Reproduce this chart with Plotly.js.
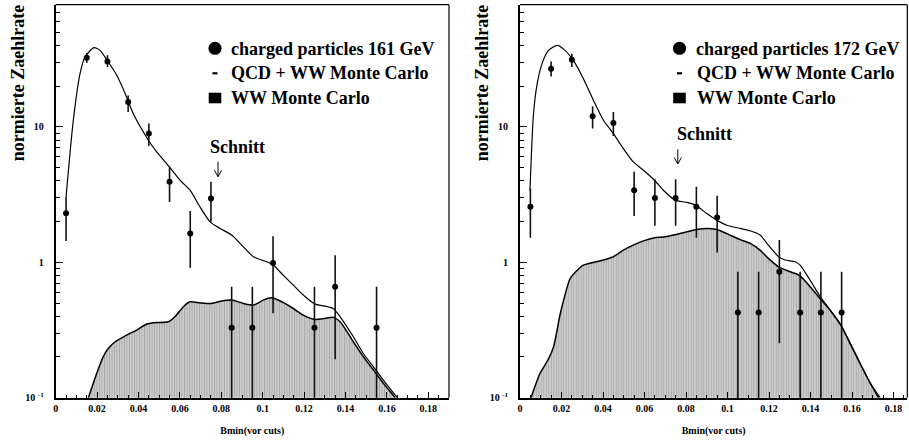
<!DOCTYPE html>
<html>
<head>
<meta charset="utf-8">
<script src="https://cdn.plot.ly/plotly-3.0.1.min.js"></script>
<style>html,body{margin:0;padding:0;background:#fff}#chart{width:909px;height:442px}</style>
</head>
<body>
<div id="chart"></div>
<script>
// ---------- 161 GeV panel ----------
const binCenters161 = [0.005,0.015,0.025,0.035,0.045,0.055,0.065,0.075,0.085,0.095,0.105,0.125,0.135,0.155];
const data161 = [2.30,32.5,30.5,15.3,8.93,3.93,1.63,2.96,0.329,0.329,0.99,0.329,0.66,0.329];
const upper161 = [3.04,35.2,33.8,17.1,10.6,5.07,2.39,3.93,0.66,0.66,1.56,0.66,1.13,0.66];
const lower161 = [1.44,29.7,27.7,12.9,7.24,2.79,0.91,1.99,0.01,0.01,0.42,0.01,0.192,0.01];

const totX161 = [0.0050,0.0085,0.0118,0.0142,0.0185,0.0214,0.0254,0.0295,0.0343,0.0375,0.0448,0.0488,0.0536,0.0601,0.0649,0.0697,0.0746,0.0794,0.0850,0.0907,0.0955,0.1019,0.1052,0.1100,0.1148,0.1196,0.1253,0.1300,0.1341,0.1374,0.1438,0.1486,0.1535,0.1583,0.1650];
const totY161 = [3.04,11.2,25.0,33.0,38.5,36.8,30.2,24.1,16.6,12.5,7.97,6.54,5.36,4.04,3.41,2.57,1.99,1.78,1.59,1.30,1.10,1.01,0.953,0.80,0.678,0.573,0.491,0.475,0.456,0.396,0.282,0.212,0.169,0.135,0.1];

const wwX161 = [0.0158,0.0198,0.0230,0.0254,0.0287,0.0343,0.0391,0.0440,0.0472,0.0544,0.0576,0.0617,0.0649,0.0697,0.0754,0.0802,0.0850,0.0907,0.0955,0.1003,0.1043,0.1092,0.1148,0.1196,0.1253,0.1300,0.1341,0.1374,0.1438,0.1486,0.1535,0.1583,0.1640];
const wwY161 = [0.1,0.151,0.201,0.231,0.259,0.290,0.316,0.35,0.358,0.364,0.396,0.47,0.511,0.502,0.497,0.517,0.526,0.497,0.483,0.526,0.547,0.511,0.456,0.407,0.378,0.385,0.392,0.364,0.259,0.201,0.160,0.128,0.1];

// ---------- 172 GeV panel ----------
const binCenters172 = [0.005,0.015,0.025,0.035,0.045,0.055,0.065,0.075,0.085,0.095,0.105,0.115,0.125,0.135,0.145,0.155];
const data172 = [2.57,26.9,31.4,12.0,10.7,3.41,2.99,2.99,2.57,2.14,0.426,0.426,0.851,0.426,0.426,0.426];
const upper172 = [3.51,30.5,34.8,14.2,12.9,4.66,4.11,4.11,3.61,3.10,0.851,0.851,1.46,0.851,0.851,0.851];
const lower172 = [1.52,23.6,27.7,9.72,8.59,2.20,1.86,1.86,1.52,1.18,0.01,0.01,0.252,0.01,0.01,0.01];

const totX172 = [0.0048,0.0064,0.0080,0.0105,0.0137,0.0180,0.0217,0.0257,0.0305,0.0354,0.0402,0.0450,0.0498,0.0546,0.0595,0.0648,0.0691,0.0747,0.0804,0.0847,0.0900,0.0948,0.0997,0.1061,0.1109,0.1157,0.1197,0.1246,0.1278,0.1326,0.1350,0.1398,0.1446,0.1495,0.1546,0.1591,0.1639,0.1688,0.1736];
const totY172 = [3.41,11.9,19.7,29.0,36.8,40.1,36.8,31.0,22.8,15.7,11.2,8.93,6.92,5.52,4.79,4.04,3.41,2.88,2.77,2.64,2.29,2.05,1.88,1.78,1.71,1.59,1.34,1.10,1.04,1.01,0.953,0.738,0.56,0.443,0.344,0.252,0.179,0.128,0.1];

const wwX172 = [0.0053,0.0096,0.0135,0.0162,0.0193,0.0215,0.0240,0.0265,0.0305,0.0402,0.0450,0.0498,0.0546,0.0595,0.0648,0.0691,0.0747,0.0804,0.0852,0.0900,0.0948,0.0997,0.1061,0.1109,0.1157,0.1197,0.1246,0.1302,0.1347,0.1398,0.1446,0.1495,0.1546,0.1591,0.1639,0.1688,0.1728];
const wwY172 = [0.1,0.151,0.19,0.238,0.41,0.56,0.75,0.84,0.953,1.04,1.10,1.23,1.34,1.44,1.52,1.54,1.60,1.68,1.75,1.78,1.75,1.63,1.47,1.38,1.23,1.07,0.926,0.851,0.80,0.66,0.541,0.443,0.344,0.252,0.179,0.128,0.1];

const legendLabels161 = ["charged particles 161 GeV","QCD + WW Monte Carlo","WW Monte Carlo"];
const legendLabels172 = ["charged particles 172 GeV","QCD + WW Monte Carlo","WW Monte Carlo"];
const xTickVals = [0,0.02,0.04,0.06,0.08,0.1,0.12,0.14,0.16,0.18];
const xTickText = ["0","0.02","0.04","0.06","0.08","0.1","0.12","0.14","0.16","0.18"];
const yTickVals = [0.1,1,10];
const yTickText = ["10 <sup>-1</sup>","1","10"];
const yMinorVals = [0.2,0.3,0.4,0.5,0.6,0.7,0.8,0.9,2,3,4,5,6,7,8,9,20,30,40,50,60,70,80];
const xTitle = "Bmin(vor cuts)";
const yTitle = "normierte Zaehlrate";
const cutLabel = "Schnitt";

const SERIF = "Liberation Serif, Times New Roman, serif";
const W = 909, H = 442;
const px = v => v / W;
const py = v => 1 - v / H;

function panelTraces(xa, ya, cx, cy, up, lo, tx, ty, wx, wy) {
  return [
    {x: wx, y: wy, xaxis: xa, yaxis: ya, type: 'scatter', mode: 'lines',
     line: {color: '#000', width: 1.5, shape: 'spline', smoothing: 0.6},
     fill: 'tozeroy', fillcolor: '#c6c6c6',
     fillpattern: {shape: '|', fgcolor: '#a8a8a8', bgcolor: '#d0d0d0', size: 2.5, solidity: 0.4},
     hoverinfo: 'skip', showlegend: false},
    {x: tx, y: ty, xaxis: xa, yaxis: ya, type: 'scatter', mode: 'lines',
     line: {color: '#000', width: 1.2, shape: 'spline', smoothing: 0.6},
     hoverinfo: 'skip', showlegend: false},
    {x: cx, y: cy, xaxis: xa, yaxis: ya, type: 'scatter', mode: 'markers',
     marker: {color: '#000', size: 6},
     error_y: {type: 'data', symmetric: false,
       array: up.map((u, i) => u - cy[i]),
       arrayminus: lo.map((l, i) => cy[i] - l),
       color: '#111', thickness: 1.6, width: 0},
     hoverinfo: 'skip', showlegend: false}
  ];
}

const traces = [].concat(
  panelTraces('x', 'y', binCenters161, data161, upper161, lower161, totX161, totY161, wwX161, wwY161),
  panelTraces('x2', 'y2', binCenters172, data172, upper172, lower172, totX172, totY172, wwX172, wwY172)
);

function xAxis(domain, range, anchor) {
  return {domain: domain, range: range, anchor: anchor,
    showgrid: false, zeroline: false, showline: true, linewidth: 2, linecolor: '#000',
    ticks: 'inside', ticklen: 6, tickwidth: 1, tickcolor: '#000',
    tickmode: 'array', tickvals: xTickVals, ticktext: xTickText,
    minor: {ticks: 'inside', ticklen: 3, dtick: 0.005, tick0: 0, tickcolor: '#000', tickwidth: 1, showgrid: false},
    tickfont: {family: SERIF, size: 10, color: '#000', weight: 'bold'},
    title: {text: xTitle, standoff: 14, font: {family: SERIF, size: 10, color: '#000', weight: 'bold'}}};
}
function yAxis(anchor) {
  return {type: 'log', domain: [py(397.7), py(4.7)], range: [-1, Math.log10(80)], anchor: anchor,
    showgrid: false, zeroline: false, showline: true, linewidth: 2, linecolor: '#000',
    ticks: 'inside', ticklen: 7, tickwidth: 1, tickcolor: '#000',
    tickmode: 'array', tickvals: yTickVals, ticktext: yTickText, ticklabelstandoff: 8,
    minor: {ticks: 'inside', ticklen: 4, tickmode: 'array', tickvals: yMinorVals, tickcolor: '#000', tickwidth: 1, showgrid: false},
    tickfont: {family: SERIF, size: 10, color: '#000', weight: 'bold'}};
}

const legFont = {family: SERIF, size: 18, color: '#000', weight: 'bold'};
function ann(x, y, text, font, extra) {
  return Object.assign({xref: 'paper', yref: 'paper', x: px(x), y: py(y), text: text,
    showarrow: false, xanchor: 'center', yanchor: 'middle', font: font}, extra || {});
}

const annotations = [
  ann(229, 48.5, legendLabels161[0], legFont, {xanchor: 'left'}),
  ann(229, 72.8, legendLabels161[1], legFont, {xanchor: 'left'}),
  ann(229, 97.5, legendLabels161[2], legFont, {xanchor: 'left'}),
  ann(694, 48.8, legendLabels172[0], legFont, {xanchor: 'left'}),
  ann(695, 72.8, legendLabels172[1], legFont, {xanchor: 'left'}),
  ann(695, 97.5, legendLabels172[2], legFont, {xanchor: 'left'}),
  ann(237.8, 146.7, cutLabel, legFont),
  ann(704.2, 134.2, cutLabel, legFont),
  ann(18, 83.3, yTitle, legFont, {textangle: -90}),
  ann(482, 83.3, yTitle, legFont, {textangle: -90})
];

function border(xa, ya) {
  const base = {type: 'line', xref: xa + ' domain', yref: ya + ' domain', line: {color: '#000', width: 1.2}};
  return [Object.assign({}, base, {x0: 0, x1: 1, y0: 1, y1: 1}),
          Object.assign({}, base, {x0: 1, x1: 1, y0: 0, y1: 1})];
}
function legendSymbols(cx) {
  return [
    {type: 'circle', xref: 'paper', yref: 'paper', x0: px(cx - 6.6), x1: px(cx + 6.6), y0: py(54.8), y1: py(41.8),
     fillcolor: '#000', line: {width: 0}},
    {type: 'line', xref: 'paper', yref: 'paper', x0: px(cx - 2.5), x1: px(cx + 2.5), y0: py(73.3), y1: py(73.3),
     line: {color: '#000', width: 2.2}},
    {type: 'rect', xref: 'paper', yref: 'paper', x0: px(cx - 6.3), x1: px(cx + 6.3), y0: py(103.3), y1: py(92.7),
     fillcolor: '#000', line: {width: 0}}
  ];
}
function cutArrow(cx, top, bottom) {
  const p = (x, y) => px(x) + ',' + py(y);
  return {type: 'path', xref: 'paper', yref: 'paper',
    path: 'M' + p(cx, top) + 'L' + p(cx, bottom) + 'M' + p(cx - 3.6, bottom - 6.5) + 'L' + p(cx, bottom) + 'L' + p(cx + 3.6, bottom - 6.5),
    line: {color: '#000', width: 1}};
}

const layout = {
  width: W, height: H,
  margin: {l: 0, r: 0, t: 0, b: 0},
  paper_bgcolor: '#fff', plot_bgcolor: '#fff',
  showlegend: false,
  xaxis: xAxis([px(55.7), px(449)], [0, 0.19], 'y'),
  yaxis: yAxis('x'),
  xaxis2: xAxis([px(520), px(907.3)], [0, (907.3 - 520) / 41.5 * 0.02], 'y2'),
  yaxis2: yAxis('x2'),
  annotations: annotations,
  shapes: [].concat(border('x', 'y'), border('x2', 'y2'), legendSymbols(215), legendSymbols(679.5),
    [cutArrow(218, 161.7, 176.7), cutArrow(677.8, 149.3, 164)])
};

Plotly.newPlot('chart', traces, layout, {staticPlot: true, displayModeBar: false});
</script>
</body>
</html>
